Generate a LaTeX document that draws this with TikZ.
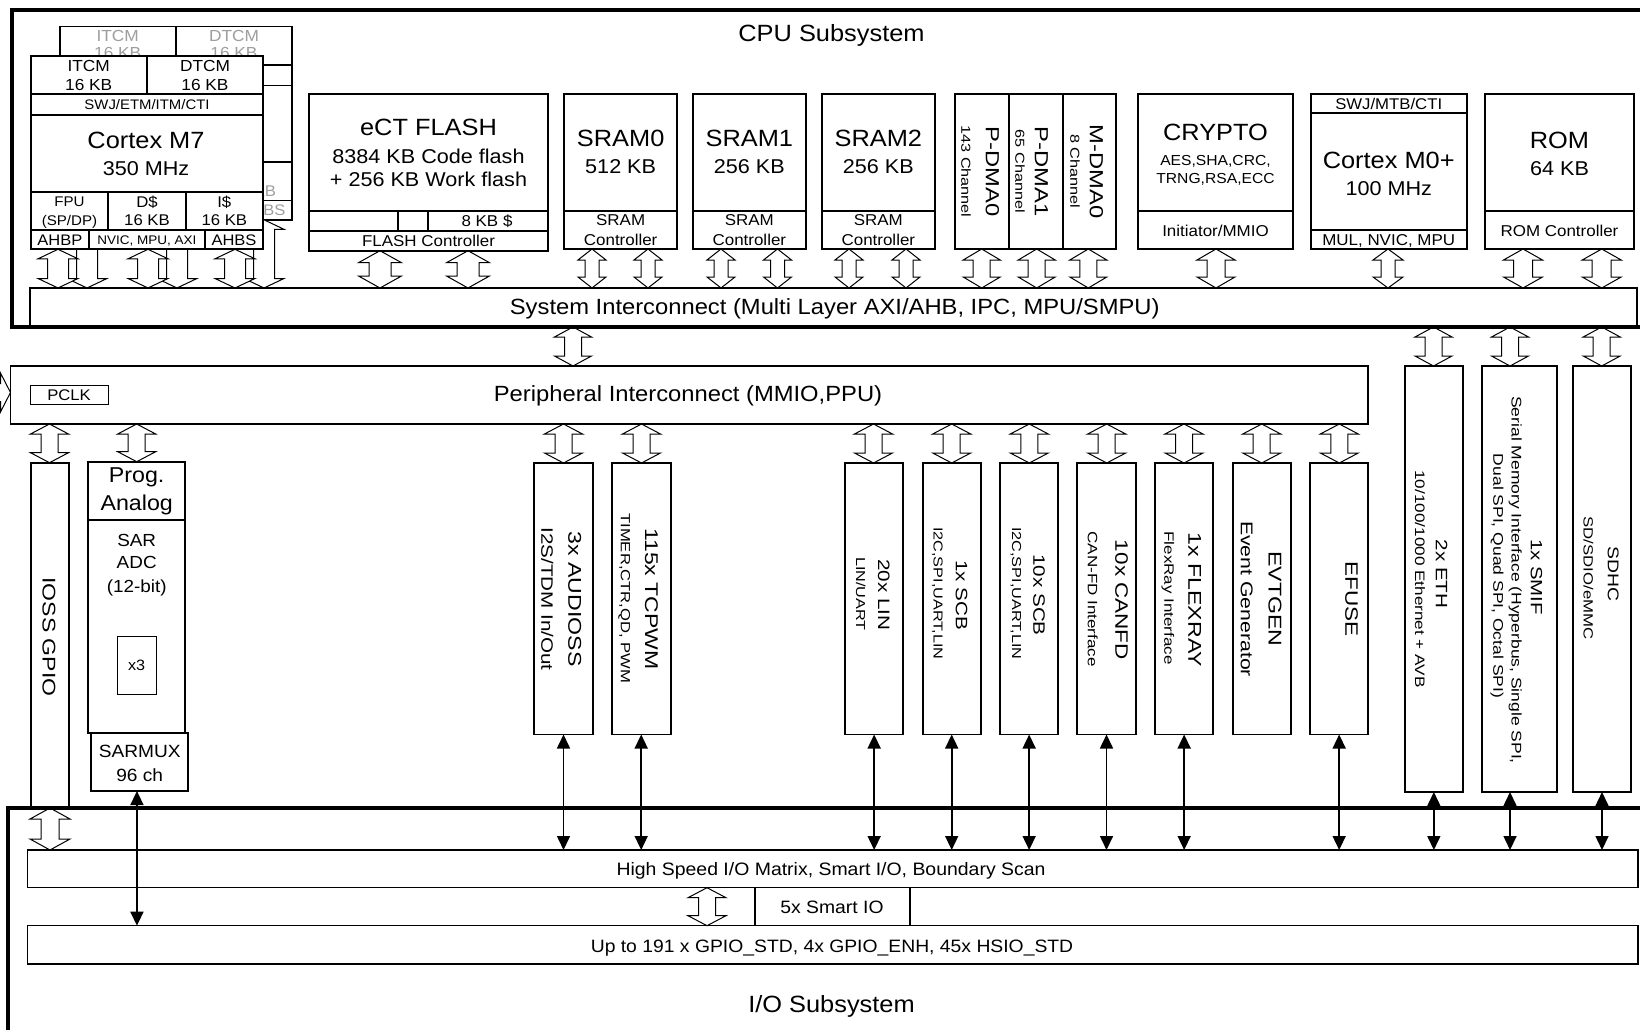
\documentclass[tikz,border=0pt]{standalone}
\usepackage{fontspec}
\setmainfont{Liberation Sans}
\newfontfamily\hf[FakeStretch=1.08]{Liberation Sans}
\newfontfamily\vf[FakeStretch=1.25]{Liberation Sans}
\usetikzlibrary{arrows.meta}
\newcommand\fsz[1]{\fontsize{#1}{#1}\selectfont}
% horizontal text: name, x, cap-centre y, size, text
\newcommand\htxt[6][]{\node[inner sep=0pt,outer sep=0pt,anchor=base,font={\hf\fsz{#5}},#1] (#2) at ({#3},{#4+0.358*#5}) {#6};}
% vertical text (reads top to bottom)
\newcommand\vtxt[6][]{\node[inner sep=0pt,outer sep=0pt,anchor=base,rotate=-90,font={\vf\fsz{#5}},#1] (#2) at ({#3-0.358*#5},{#4}) {#6};}
% box: name, x1, y1, x2, y2
\newcommand\bxx[6][]{\node[boxs,minimum width={(#5-#3)*1pt},minimum height={(#6-#4)*1pt},anchor=north west,#1] (#2) at (#3,#4) {};}
% hollow vertical double arrow: cx, ytop, ybot, head half width, shaft half width, head length
\newcommand\dblv[6]{\draw[harrow] (#1,#2) -- ({#1+#4},{#2+#6}) -- ({#1+#5},{#2+#6}) -- ({#1+#5},{#3-#6}) -- ({#1+#4},{#3-#6}) -- (#1,#3) -- ({#1-#4},{#3-#6}) -- ({#1-#5},{#3-#6}) -- ({#1-#5},{#2+#6}) -- ({#1-#4},{#2+#6}) -- cycle;}
% hollow horizontal double arrow: cy, xleft, xright, hw, sw, hl
\newcommand\dblh[6]{\draw[harrow] (#2,#1) -- ({#2+#6},{#1-#4}) -- ({#2+#6},{#1-#5}) -- ({#3-#6},{#1-#5}) -- ({#3-#6},{#1-#4}) -- (#3,#1) -- ({#3-#6},{#1+#4}) -- ({#3-#6},{#1+#5}) -- ({#2+#6},{#1+#5}) -- ({#2+#6},{#1+#4}) -- cycle;}
% Cortex M7 frame and cell lines: prefix
\newcommand\msevbox[1]{%
\bxx[fill=white]{#1box}{30.7}{56}{263}{249.3}
\draw[boxl] (30.7,94.3) -- (263,94.3) (30.7,115) -- (263,115) (30.7,191.7) -- (263,191.7) (30.7,230) -- (263,230) (146.7,56) -- (146.7,94.3) (108.3,191.7) -- (108.3,230) (185.7,191.7) -- (185.7,230) (89,230) -- (89,249.3) (205,230) -- (205,249.3);}
% SRAM block: name, x1, x2, title, size
\newcommand\sramb[5]{\bxx{#1}{#2}{94}{#3}{249}
\draw[boxl] (#2,210.7) -- (#3,210.7);
\htxt{#1t}{(#2+#3)/2}{138.3}{23.5}{#4}
\htxt{#1s}{(#2+#3)/2}{166.7}{20}{#5}
\htxt{#1c}{(#2+#3)/2}{219.5}{15.7}{SRAM}
\htxt{#1d}{(#2+#3)/2}{240.2}{15.7}{Controller}}
% peripheral column box: name, x1, x2
\newcommand\perb[3]{\bxx{#1}{#2}{463}{#3}{734.5}}
\newcommand\rgtb[3]{\bxx{#1}{#2}{366}{#3}{792}}

\begin{document}
\begin{tikzpicture}[x=1pt,y=-1pt,
  boxs/.style={draw,line width=1.8pt,inner sep=0pt,outer sep=0pt},
  boxl/.style={line width=1.8pt},
  harrow/.style={draw,fill=white,line width=1pt,line join=miter},
  biarrow/.style={line width=1.6pt,arrows={Triangle[length=14pt,width=13pt]-Triangle[length=14pt,width=13pt]}},
  frm/.style={line width=4.5pt,line join=miter},
  ghost/.style={text=black!38}]
\useasboundingbox (0,0) rectangle (1640,1030);
\fill[white] (0,0) rectangle (1640,1030);
\clip (0,0) rectangle (1640,1030);

% ---------- second (background) Cortex M7 ----------
\begin{scope}[shift={(29,-29.5)}]
\msevbox{bk}
\htxt[ghost]{bka}{88.7}{65}{16}{ITCM}
\htxt[ghost]{bkb}{88.7}{82}{16}{16 KB}
\htxt[ghost]{bkc}{205}{65}{16}{DTCM}
\htxt[ghost]{bkd}{205}{82}{16}{16 KB}
\htxt[ghost]{bkm}{224.3}{220}{15.5}{16 KB}
\htxt[ghost]{bkp}{234}{239.6}{15.3}{AHBS}
\end{scope}
\dblv{87}{219.8}{288}{20}{10.5}{9.5}
\dblv{177}{219.8}{288}{20}{10.5}{9.5}
\dblv{264}{219.8}{288}{20}{10.5}{9.5}

% ---------- front Cortex M7 ----------
\msevbox{fr}
\htxt{fra}{88.7}{66}{16}{ITCM}
\htxt{frb}{88.7}{85}{16}{16 KB}
\htxt{frc}{205}{66}{16}{DTCM}
\htxt{frd}{205}{85}{16}{16 KB}
\htxt{fre}{147}{104.7}{13.8}{SWJ/ETM/ITM/CTI}
\htxt{frf}{146}{140}{23.5}{Cortex M7}
\htxt{frg}{146}{168.3}{20}{350 MHz}
\htxt{frh}{69.5}{201.7}{14}{FPU}
\htxt{fri}{69.5}{220}{14}{(SP/DP)}
\htxt{frj}{147}{201.7}{15.5}{D\$}
\htxt{frk}{147}{220}{15.5}{16 KB}
\htxt{frl}{224.3}{201.7}{15.5}{I\$}
\htxt{frm}{224.3}{220}{15.5}{16 KB}
\htxt{frn}{59.8}{239.6}{15.3}{AHBP}
\htxt{fro}{147}{239.6}{12.5}{NVIC, MPU, AXI}
\htxt{frp}{234}{239.6}{15.3}{AHBS}
\dblv{58}{249.3}{288}{20}{10.5}{9.5}
\dblv{148}{249.3}{288}{20}{10.5}{9.5}
\dblv{235}{249.3}{288}{20}{10.5}{9.5}

% ---------- hollow arrows, CPU row ----------
\dblv{380}{250.7}{288}{21.5}{11}{12}
\dblv{468}{250.7}{288}{21.5}{11}{12}
\dblv{592}{249}{288}{14}{7}{11}
\dblv{648}{249}{288}{14}{7}{11}
\dblv{721}{249}{288}{14}{7}{11}
\dblv{777.5}{249}{288}{14}{7}{11}
\dblv{849}{249}{288}{14}{7}{11}
\dblv{906}{249}{288}{14}{7}{11}
\dblv{981.7}{249}{288}{18.5}{8.5}{11}
\dblv{1036.7}{249}{288}{18.5}{8.5}{11}
\dblv{1088.3}{249}{288}{18.5}{8.5}{11}
\dblv{1216}{249}{288}{19}{9}{11}
\dblv{1388}{249}{288}{15}{7}{11}
\dblv{1523}{249}{288}{19.5}{9.5}{11}
\dblv{1601.7}{249}{288}{19.5}{9.5}{11}
% system interconnect -> below
\dblv{573}{327}{366}{18.5}{8.5}{10}
\dblv{1433.5}{327}{366}{18.5}{8.5}{10}
\dblv{1510}{327}{366}{18.5}{8.5}{10}
\dblv{1601.7}{327}{366}{18.5}{8.5}{10}
% peripheral interconnect -> peripherals
\dblv{49.5}{424}{462.7}{19}{8.5}{10}
\dblv{136.7}{424}{461.7}{19}{8.5}{10}
\dblv{563.5}{424}{463}{19}{8.5}{10}
\dblv{641.5}{424}{463}{19}{8.5}{10}
\dblv{873.5}{424}{463}{19}{8.5}{10}
\dblv{951.7}{424}{463}{19}{8.5}{10}
\dblv{1029.3}{424}{463}{19}{8.5}{10}
\dblv{1106.7}{424}{463}{19}{8.5}{10}
\dblv{1184}{424}{463}{19}{8.5}{10}
\dblv{1261.7}{424}{463}{19}{8.5}{10}
\dblv{1339.3}{424}{463}{19}{8.5}{10}
% I/O subsystem
\dblv{50}{808}{850}{20}{9}{11}
\dblv{707}{887.7}{925.7}{19}{8.5}{10}
% cut-off arrow at the left edge
\dblh{392.5}{-30}{10.5}{19.5}{9}{10}

% ---------- CPU row blocks ----------
\htxt{cpu}{831.5}{33.5}{23.5}{CPU Subsystem}

\bxx{flash}{309.3}{94}{547.7}{250.7}
\draw[boxl] (309.3,211) -- (547.7,211) (309.3,230.7) -- (547.7,230.7) (398.3,211) -- (398.3,230.7) (428.3,211) -- (428.3,230.7);
\htxt{fla}{428.5}{126.7}{23.5}{eCT FLASH}
\htxt{flb}{428.5}{156}{20}{8384 KB Code flash}
\htxt{flc}{428.5}{179.3}{20}{+ 256 KB Work flash}
\htxt{fld}{487}{221}{15.7}{8 KB \$}
\htxt{fle}{428.5}{240.5}{15.7}{FLASH Controller}

\sramb{srz}{564.3}{677}{SRAM0}{512 KB}
\sramb{sro}{692.7}{806}{SRAM1}{256 KB}
\sramb{srt}{821.7}{935}{SRAM2}{256 KB}

\bxx{pdma0}{955}{94}{1009.3}{249}
\bxx{pdma1}{1009.3}{94}{1062.7}{249}
\bxx{mdma0}{1062.7}{94}{1115.7}{249}
\vtxt{pdzt}{992.7}{171.5}{19}{P-DMA0}
\vtxt{pdzs}{966}{171.5}{13}{143 Channel}
\vtxt{pdot}{1041.7}{171.5}{19}{P-DMA1}
\vtxt{pdos}{1020}{171.5}{13}{65 Channel}
\vtxt{mdzt}{1096.7}{171.5}{19}{M-DMA0}
\vtxt{mdzs}{1075}{171.5}{13}{8 Channel}

\bxx{crypto}{1137.7}{94}{1293.3}{249}
\draw[boxl] (1137.7,211) -- (1293.3,211);
\htxt{cra}{1215.5}{131.7}{23.5}{CRYPTO}
\htxt{crb}{1215.5}{160}{14.5}{AES,SHA,CRC,}
\htxt{crc}{1215.5}{178.3}{14.5}{TRNG,RSA,ECC}
\htxt{crd}{1215.5}{230.7}{15.7}{Initiator/MMIO}

\bxx{mzero}{1310.7}{94}{1466.7}{249}
\draw[boxl] (1310.7,113.3) -- (1466.7,113.3) (1310.7,230) -- (1466.7,230);
\htxt{mza}{1388.7}{104.3}{15.5}{SWJ/MTB/CTI}
\htxt{mzb}{1388.7}{160}{23.5}{Cortex M0+}
\htxt{mzc}{1388.7}{188.3}{20}{100 MHz}
\htxt{mzd}{1388.7}{239.5}{15.7}{MUL, NVIC, MPU}

\bxx{rom}{1485}{94}{1634}{249}
\draw[boxl] (1485,211) -- (1634,211);
\htxt{roa}{1559.5}{140}{23.5}{ROM}
\htxt{rob}{1559.5}{168.3}{20}{64 KB}
\htxt{roc}{1559.5}{230.7}{15.7}{ROM Controller}

\bxx[line width=1.5pt]{sysic}{30}{288}{1637}{327}
\htxt{syst}{834.7}{306.5}{22}{System Interconnect (Multi Layer AXI/AHB, IPC, MPU/SMPU)}

% ---------- peripheral interconnect ----------
\bxx[line width=1.5pt]{peric}{10.5}{366}{1368}{424}
\htxt{perit}{688}{394}{22}{Peripheral Interconnect (MMIO,PPU)}
\bxx[line width=1pt]{pclk}{30}{385.7}{108}{404.3}
\htxt{pclkt}{69}{395}{15.4}{PCLK}

% ---------- left column ----------
\bxx{ioss}{30.7}{462.7}{69}{808}
\vtxt{iosst}{49.3}{637}{18.4}{IOSS GPIO}
\bxx{prog}{88.3}{461.7}{185}{520}
\htxt{proga}{136.7}{475}{21.5}{Prog.}
\htxt{progb}{136.7}{502.5}{21.5}{Analog}
\bxx{sar}{88.3}{520}{185}{733}
\htxt{sara}{136.7}{540.5}{17.5}{SAR}
\htxt{sarb}{136.7}{562.5}{17.5}{ADC}
\htxt{sarc}{136.7}{586}{17.5}{(12-bit)}
\bxx[line width=1pt]{xthree}{117.3}{636}{156}{694}
\htxt{xthreet}{136.7}{665}{15}{x3}
\bxx{sarmux}{91}{733}{188.3}{791}
\htxt{smxa}{139.7}{751}{17.7}{SARMUX}
\htxt{smxb}{139.7}{775}{17.7}{96 ch}

% ---------- peripheral columns ----------
\perb{aud}{534.3}{592.7}
\vtxt{auda}{575}{599}{18.5}{3x AUDIOSS}
\vtxt{audb}{547.3}{599}{16.5}{I2S/TDM In/Out}
\perb{tcp}{611.7}{670.7}
\vtxt{tcpa}{651.7}{599}{18.4}{115x TCPWM}
\vtxt{tcpb}{625.7}{598.3}{13.3}{TIMER,CTR,QD, PWM}
\perb{lin}{845}{903.3}
\vtxt{lina}{884}{595}{16.5}{20x LIN}
\vtxt{linb}{860.7}{594}{13}{LIN/UART}
\perb{scba}{922.7}{980.7}
\vtxt{scbaa}{961.7}{595}{16.5}{1x SCB}
\vtxt{scbab}{938.3}{593.3}{13}{I2C,SPI,UART,LIN}
\perb{scbb}{1000}{1058.3}
\vtxt{scbba}{1039.3}{595}{16.5}{10x SCB}
\vtxt{scbbb}{1016.7}{593.3}{13}{I2C,SPI,UART,LIN}
\perb{can}{1077}{1136}
\vtxt{cana}{1121.7}{600}{18}{10x CANFD}
\vtxt{canb}{1092.7}{599}{13.6}{CAN-FD Interface}
\perb{flex}{1155}{1213.3}
\vtxt{flexa}{1195}{600}{18.5}{1x FLEXRAY}
\vtxt{flexb}{1169.3}{598}{13.6}{FlexRay Interface}
\perb{evt}{1232.7}{1291}
\vtxt{evta}{1275.3}{599}{18.5}{EVTGEN}
\vtxt{evtb}{1247}{599}{17}{Event Generator}
\perb{efuse}{1310}{1368.3}
\vtxt{efusea}{1351.7}{599}{18}{EFUSE}

% ---------- right columns ----------
\rgtb{eth}{1405}{1462.7}
\vtxt{etha}{1441.7}{574}{16.5}{2x ETH}
\vtxt{ethb}{1420}{579}{13.7}{10/100/1000 Ethernet + AVB}
\rgtb{smif}{1481.7}{1557.3}
\vtxt{smifa}{1536.7}{577}{16.3}{1x SMIF}
\vtxt{smifb}{1516.7}{580}{14}{Serial Memory Interface (Hyperbus, Single SPI,}
\vtxt{smifc}{1498.3}{576}{14}{Dual SPI, Quad SPI, Octal SPI)}
\rgtb{sdhc}{1573.3}{1630.7}
\vtxt{sdhca}{1613.3}{574}{15.5}{SDHC}
\vtxt{sdhcb}{1588.3}{578}{13.4}{SD/SDIO/eMMC}

% ---------- I/O subsystem ----------
\bxx[line width=1.4pt]{hs}{27.6}{850}{1638}{887.7}
\htxt{hst}{831}{869}{18}{High Speed I/O Matrix, Smart I/O, Boundary Scan}
\bxx[line width=1.4pt]{smart}{754.8}{887.7}{909.8}{925.7}
\htxt{smartt}{832}{907.5}{17.9}{5x Smart IO}
\bxx[line width=1.4pt]{gpio}{27.6}{925.7}{1638}{964}
\htxt{gpiot}{832}{946}{17.9}{Up to 191 x GPIO\_STD, 4x GPIO\_ENH, 45x HSIO\_STD}
\htxt{iot}{831.5}{1004}{23.5}{I/O Subsystem}

% ---------- single bidirectional connectors ----------
\foreach \n in {aud,tcp,lin,scba,scbb,can,flex,efuse,eth,sdhc}
  \draw[biarrow] (\n.south) -- (\n.south |- hs.north);
\draw[biarrow] ([xshift=-9.5pt]smif.south) -- ([xshift=-9.5pt]smif.south |- hs.north);
\draw[biarrow] ([xshift=-2.7pt]sarmux.south) -- ([xshift=-2.7pt]sarmux.south |- gpio.north);

% ---------- subsystem frames ----------
\draw[frm] (1650,10) -- (12,10) -- (12,327) -- (1650,327);
\draw[frm] (1650,808) -- (8,808) -- (8,1040);
\end{tikzpicture}
\end{document}
